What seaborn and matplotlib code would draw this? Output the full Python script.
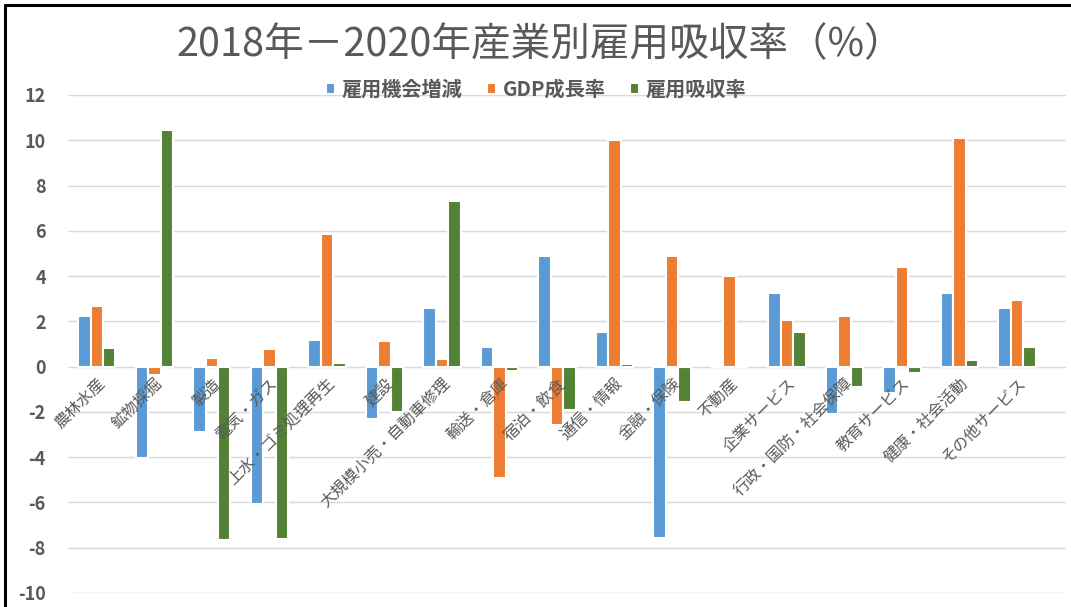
import matplotlib
matplotlib.use("Agg")
import matplotlib.pyplot as plt
from matplotlib.lines import Line2D
import seaborn as sns
import pandas as pd

# --- データ ---
industries = ["農林水産", "鉱物採掘", "製造", "電気・ガス", "上水・ゴミ処理再生", "建設",
              "大規模小売・自動車修理", "輸送・倉庫", "宿泊・飲食", "通信・情報", "金融・保険",
              "不動産", "企業サービス", "行政・国防・社会保障", "教育サービス",
              "健康・社会活動", "その他サービス"]
series_names = ["雇用機会増減", "GDP成長率", "雇用吸収率"]
employment_change = [2.24, -4.02, -2.88, -6.08, 1.18, -2.33, 2.6, 0.88, 4.87, 1.55,
                     -7.55, 0.0, 3.27, -2.08, -1.16, 3.27, 2.6]
gdp_growth = [2.69, -0.36, 0.36, 0.78, 5.88, 1.12, 0.33, -4.93, -2.57, 10.0,
              4.9, 4.02, 2.07, 2.25, 4.42, 10.12, 2.95]
absorption = [0.81, 10.46, -7.68, -7.6, 0.17, -2.02, 7.32, -0.18, -1.93, 0.13,
              -1.55, 0.0, 1.52, -0.91, -0.27, 0.3, 0.87]
colors = ["#5B9BD5", "#ED7D31", "#548235"]
yticks = list(range(-10, 13, 2))

df = pd.DataFrame({"産業": industries,
                   series_names[0]: employment_change,
                   series_names[1]: gdp_growth,
                   series_names[2]: absorption})
long_df = df.melt(id_vars="産業", var_name="指標", value_name="値")

sns.set_style("white")
plt.rcParams['font.family'] = ['Noto Sans CJK JP', 'DejaVu Sans']
GRAY = "#595959"

fig = plt.figure(figsize=(10.71, 6.07), dpi=100)
ax = fig.add_axes([68 / 1071, 1 - 593 / 607, (1066 - 68) / 1071, (593 - 95) / 607])

sns.barplot(data=long_df, x="産業", y="値", hue="指標", hue_order=series_names,
            palette=colors, saturation=1, width=0.65, edgecolor="white", linewidth=1.5,
            ax=ax, legend=True)

ax.set_ylim(-10, 12)
ax.set_xlim(-0.5, 16.85)
ax.set_yticks(yticks)
ax.set_yticklabels([str(v) for v in yticks], fontsize=13, fontweight="bold", color=GRAY)
ax.yaxis.grid(True, color="#D9D9D9", linewidth=1)
ax.set_axisbelow(True)
ax.xaxis.set_zorder(5)  # 項目名は棒の上に
for s in ["top", "right", "left"]:
    ax.spines[s].set_visible(False)
ax.spines["bottom"].set_position(("data", 0))
ax.spines["bottom"].set_visible(False)
ax.tick_params(axis="y", length=0, pad=16)
ax.tick_params(axis="x", length=0, pad=6)
ax.set_xticks(range(len(industries)))
ax.set_xticklabels(industries, rotation=45, ha="right", rotation_mode="anchor",
                   fontsize=11.5, color=GRAY)
ax.set_xlabel("")
ax.set_ylabel("")

# 凡例
handles, labels = ax.get_legend_handles_labels()
ax.legend_.remove()
fig.legend(handles, labels, loc="center", bbox_to_anchor=(536 / 1071, 1 - 89 / 607),
           ncol=3, frameon=False, handlelength=0.45, handleheight=0.45, handletextpad=0.35,
           columnspacing=1.2, prop={"size": 14.5, "weight": "bold"}, labelcolor=GRAY)

fig.text(540 / 1071, 1 - 45 / 607, "2018年－2020年産業別雇用吸収率（%）",
         ha="center", va="center", fontsize=28.5, color=GRAY)

# 外枠
fig.add_artist(Line2D([5 / 1071, 5 / 1071], [0, 1 - 5 / 607], color="black", linewidth=2.2,
                      transform=fig.transFigure))
fig.add_artist(Line2D([5 / 1071, 1], [1 - 5 / 607, 1 - 5 / 607], color="black", linewidth=2.2,
                      transform=fig.transFigure))

fig.savefig("out.png", dpi=100)
